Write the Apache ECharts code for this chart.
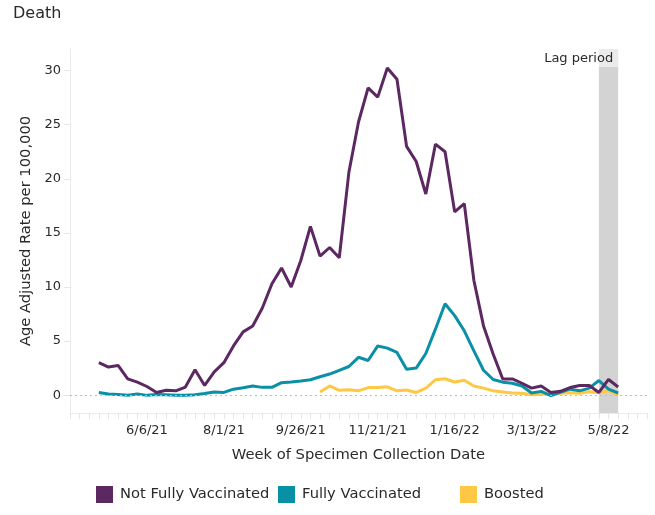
<!DOCTYPE html>
<html>
<head>
<meta charset="utf-8">
<script src="https://cdn.jsdelivr.net/npm/echarts@6/dist/echarts.min.js"></script>
<style>
  html, body { margin: 0; padding: 0; background: #fff; }
  #chart1 { width: 655px; height: 515px; }
</style>
</head>
<body>
<div id="chart1"></div>
<script>
// week of specimen collection
var weeks = [
    '2021-05-02', '2021-05-09', '2021-05-16', '2021-05-23', '2021-05-30',
    '2021-06-06', '2021-06-13', '2021-06-20', '2021-06-27', '2021-07-04',
    '2021-07-11', '2021-07-18', '2021-07-25', '2021-08-01', '2021-08-08',
    '2021-08-15', '2021-08-22', '2021-08-29', '2021-09-05', '2021-09-12',
    '2021-09-19', '2021-09-26', '2021-10-03', '2021-10-10', '2021-10-17',
    '2021-10-24', '2021-10-31', '2021-11-07', '2021-11-14', '2021-11-21',
    '2021-11-28', '2021-12-05', '2021-12-12', '2021-12-19', '2021-12-26',
    '2022-01-02', '2022-01-09', '2022-01-16', '2022-01-23', '2022-01-30',
    '2022-02-06', '2022-02-13', '2022-02-20', '2022-02-27', '2022-03-06',
    '2022-03-13', '2022-03-20', '2022-03-27', '2022-04-03', '2022-04-10',
    '2022-04-17', '2022-04-24', '2022-05-01', '2022-05-08', '2022-05-15'
];
var notFully = [
    3.0, 2.6, 2.75, 1.5, 1.2, 0.8, 0.25, 0.45, 0.4, 0.75,
    2.35, 0.9, 2.15, 3.0, 4.55, 5.85, 6.4, 8.05, 10.3, 11.75,
    10.0, 12.45, 15.6, 12.85, 13.65, 12.7, 20.6, 25.25, 28.4, 27.55,
    30.25, 29.2, 23.0, 21.6, 18.6, 23.2, 22.5, 16.95, 17.7, 10.6,
    6.4, 3.8, 1.5, 1.5, 1.1, 0.65, 0.85, 0.25, 0.35, 0.7,
    0.9, 0.9, 0.25, 1.45, 0.75
];
var fully = [
    0.25, 0.1, 0.05, 0.0, 0.1, -0.02, 0.05, 0.03, 0.0, 0.0,
    0.03, 0.15, 0.3, 0.25, 0.55, 0.68, 0.85, 0.72, 0.72, 1.15,
    1.22, 1.3, 1.42, 1.7, 1.95, 2.3, 2.65, 3.5, 3.2, 4.55,
    4.35, 3.95, 2.4, 2.5, 3.85, 6.1, 8.45, 7.35, 5.95, 4.1,
    2.3, 1.45, 1.2, 1.1, 0.85, 0.2, 0.35, -0.05, 0.25, 0.55,
    0.4, 0.65, 1.35, 0.55, 0.2
];
var boosted = [
    null, null, null, null, null, null, null, null, null, null,
    null, null, null, null, null, null, null, null, null, null,
    null, null, null, 0.3, 0.85, 0.45, 0.5, 0.4, 0.7, 0.7,
    0.77, 0.4, 0.48, 0.25, 0.65, 1.42, 1.52, 1.22, 1.38, 0.85,
    0.65, 0.4, 0.3, 0.2, 0.18, 0.03, 0.08, 0.1, 0.18, 0.22,
    0.18, 0.32, 0.22, 0.4, 0.03
];
var xLabelDates = ['2021-06-06', '2021-08-01', '2021-09-26', '2021-11-21', '2022-01-16', '2022-03-13', '2022-05-08'];
var yTicks = [0, 5, 10, 15, 20, 25, 30];
var lagPeriod = ['2022-05-01', '2022-05-15'];
var xRange = ['2021-04-11', '2022-06-05'];

var chart1 = echarts.init(document.getElementById('chart1'));

function ts(s) {
    var p = s.split('-');
    return Date.UTC(+p[0], +p[1] - 1, +p[2]);
}
function pairs(vals) {
    return weeks.map(function (w, i) { return [ts(w), vals[i]]; });
}
// weekly tick marks along the x axis
var weekTicks = [];
for (var t = ts(xRange[0]); t <= ts(xRange[1]); t += 7 * 86400000) {
    weekTicks.push(t);
}

var txt = '#2a2a2a';
var font = 'DejaVu Sans';

var option = {
    animation: false,
    textStyle: { fontFamily: font },
    title: {
        text: 'Death',
        left: 8,
        top: 1,
        textStyle: { fontSize: 16, fontWeight: 'normal', color: txt, fontFamily: font }
    },
    legend: [
        { data: ['Not Fully Vaccinated'], left: 96 },
        { data: ['Fully Vaccinated'], left: 278 },
        { data: ['Boosted'], left: 460 }
    ].map(function (l) {
        l.top = 486;
        l.icon = 'rect';
        l.itemWidth = 17;
        l.itemHeight = 17;
        l.padding = 0;
        l.textStyle = { fontSize: 14.7, color: txt, fontFamily: font, padding: [2, 0, 0, 2] };
        return l;
    }),
    grid: { left: 70, right: 8, top: 49, bottom: 102, containLabel: false },
    xAxis: {
        type: 'value',
        min: ts(xRange[0]),
        max: ts(xRange[1]),
        name: 'Week of Specimen Collection Date',
        nameLocation: 'middle',
        nameGap: 35,
        nameTextStyle: { fontSize: 14.7, color: txt, fontFamily: font },
        axisLine: { onZero: false, lineStyle: { color: '#ebebeb', width: 1 } },
        axisTick: { customValues: weekTicks, length: 6, lineStyle: { color: '#e6e6e6' } },
        axisLabel: {
            customValues: xLabelDates.map(ts),
            margin: 11,
            fontSize: 13,
            color: txt,
            fontFamily: font,
            formatter: function (v) {
                var d = new Date(v);
                return (d.getUTCMonth() + 1) + '/' + d.getUTCDate() + '/' + String(d.getUTCFullYear()).slice(2);
            }
        },
        splitLine: { show: false }
    },
    yAxis: {
        type: 'value',
        min: -1.65,
        max: 32.0,
        name: 'Age Adjusted Rate per 100,000',
        nameLocation: 'middle',
        nameGap: 28,
        nameTextStyle: { fontSize: 14.7, color: txt, fontFamily: font },
        axisLine: { show: true, onZero: false, lineStyle: { color: '#ebebeb', width: 1 } },
        axisTick: { show: true, customValues: yTicks, length: 6, lineStyle: { color: '#e6e6e6' } },
        axisLabel: { customValues: yTicks, margin: 9, fontSize: 13, color: txt, fontFamily: font },
        splitLine: { show: false }
    },
    series: [
        {
            name: 'Not Fully Vaccinated',
            type: 'line',
            data: pairs(notFully),
            showSymbol: false,
            z: 4,
            itemStyle: { color: '#5c2861' },
            lineStyle: { width: 3, color: '#5c2861' },
            markArea: {
                silent: true,
                itemStyle: { color: '#d3d3d3' },
                label: {
                    show: true,
                    position: 'insideTopRight',
                    distance: 0,
                    padding: [3, 5, 2, 4],
                    backgroundColor: 'rgba(255,255,255,0.55)',
                    color: txt,
                    fontSize: 13,
                    fontFamily: font
                },
                data: [[{ name: 'Lag period', xAxis: ts(lagPeriod[0]) }, { xAxis: ts(lagPeriod[1]) }]]
            },
            markLine: {
                silent: true,
                symbol: 'none',
                label: { show: false },
                lineStyle: { color: '#bdbdbd', type: [2, 3], width: 1 },
                data: [{ yAxis: 0 }]
            }
        },
        {
            name: 'Fully Vaccinated',
            type: 'line',
            data: pairs(fully),
            showSymbol: false,
            z: 3,
            itemStyle: { color: '#0a90a6' },
            lineStyle: { width: 3, color: '#0a90a6' }
        },
        {
            name: 'Boosted',
            type: 'line',
            data: pairs(boosted),
            showSymbol: false,
            z: 2,
            itemStyle: { color: '#fec845' },
            lineStyle: { width: 3, color: '#fec845' }
        }
    ]
};
chart1.setOption(option, true);
</script>
</body>
</html>
